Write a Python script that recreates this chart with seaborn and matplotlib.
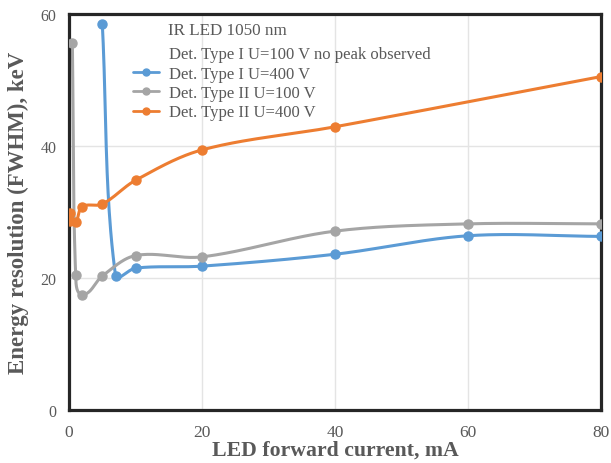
import numpy as np
import matplotlib
matplotlib.use('Agg')
import matplotlib.pyplot as plt
from matplotlib.lines import Line2D
import seaborn as sns

# Datos
blue_x = [5, 7, 10, 20, 40, 60, 80]
blue_y = [58.5, 20.3, 21.5, 21.8, 23.6, 26.4, 26.3]
gray_x = [0.5, 1, 2, 5, 10, 20, 40, 60, 80]
gray_y = [55.6, 20.4, 17.5, 20.3, 23.4, 23.2, 27.1, 28.2, 28.2]
orange_x = [0.1, 0.2, 1, 2, 5, 10, 20, 40, 80]
orange_y = [29.8, 28.6, 28.5, 30.8, 31.2, 34.8, 39.4, 42.9, 50.5]

labels = ['Det. Type I U=400 V', 'Det. Type II U=100 V', 'Det. Type II U=400 V']
colors = ['#5B9BD5', '#A5A5A5', '#ED7D31']
note_label = 'Det. Type I U=100 V no peak observed'
legend_title = 'IR LED 1050 nm'


def smooth(x, y, n=40, sx=6.69, sy=6.6):
    # curva suavizada (Bezier), controles proporcionales a la longitud del tramo
    p = np.column_stack([np.array(x) * sx, np.array(y) * sy]).astype(float)
    m = len(p)
    tang = []
    for i in range(m):
        a = p[i - 1] if i > 0 else p[i]
        b = p[i + 1] if i < m - 1 else p[i]
        d = b - a
        tang.append(d / (np.linalg.norm(d) + 1e-9))
    pts = []
    for i in range(m - 1):
        L = np.linalg.norm(p[i + 1] - p[i])
        c1 = p[i] + tang[i] * L / 3
        c2 = p[i + 1] - tang[i + 1] * L / 3
        t = np.linspace(0, 1, n)[:, None]
        seg = ((1 - t) ** 3) * p[i] + 3 * ((1 - t) ** 2) * t * c1 + 3 * (1 - t) * t ** 2 * c2 + t ** 3 * p[i + 1]
        pts.append(seg)
    pts = np.vstack(pts)
    return pts[:, 0] / sx, pts[:, 1] / sy


sns.set_style('white')
plt.rcParams['font.family'] = ['Liberation Serif', 'DejaVu Serif']

fig = plt.figure(figsize=(6.11, 4.64), dpi=100)
ax = fig.add_axes([0.113, 0.114, 0.8706, 0.854])

series = [(blue_x, blue_y), (gray_x, gray_y), (orange_x, orange_y)]
for (xs, ys), lab, col in zip(series, labels, colors):
    cx, cy = smooth(xs, ys)
    sns.lineplot(x=cx, y=cy, sort=False, estimator=None, color=col, lw=2.2, ax=ax)
    ax.plot(xs, ys, 'o', color=col, ms=6.5, zorder=3)

ax.set_xlim(0, 80)
ax.set_ylim(0, 60)
ax.set_xticks([0, 20, 40, 60, 80])
ax.set_yticks([0, 20, 40, 60])
ax.grid(True, color='#e4e4e4', lw=1)
ax.tick_params(axis='x', labelsize=12.5, labelcolor='#595959', length=0, pad=10)
ax.tick_params(axis='y', labelsize=11.5, labelcolor='#595959', length=0, pad=9)
for s in ax.spines.values():
    s.set_color('#262626')
    s.set_linewidth(2.3)

ax.set_xlabel('LED forward current, mA', fontsize=15.7, fontweight='bold', color='#595959', labelpad=0)
ax.set_ylabel('Energy resolution (FWHM), keV', fontsize=16.5, fontweight='bold', color='#595959', labelpad=8)

ax.text(0.186, 0.96, legend_title, transform=ax.transAxes, fontsize=12.3,
        color='#595959', va='center', ha='left')

handles = [Line2D([], [], color='none')]
handles += [Line2D([], [], color=c, marker='o', lw=2, ms=5) for c in colors]
leg = ax.legend(handles, [note_label] + labels, loc='upper left',
                bbox_to_anchor=(0.12, 0.918), frameon=False, fontsize=12,
                handlelength=1.55, handletextpad=0.6, borderpad=0, borderaxespad=0,
                labelspacing=0.2, labelcolor='#595959')

plt.savefig('out.png', dpi=100)
